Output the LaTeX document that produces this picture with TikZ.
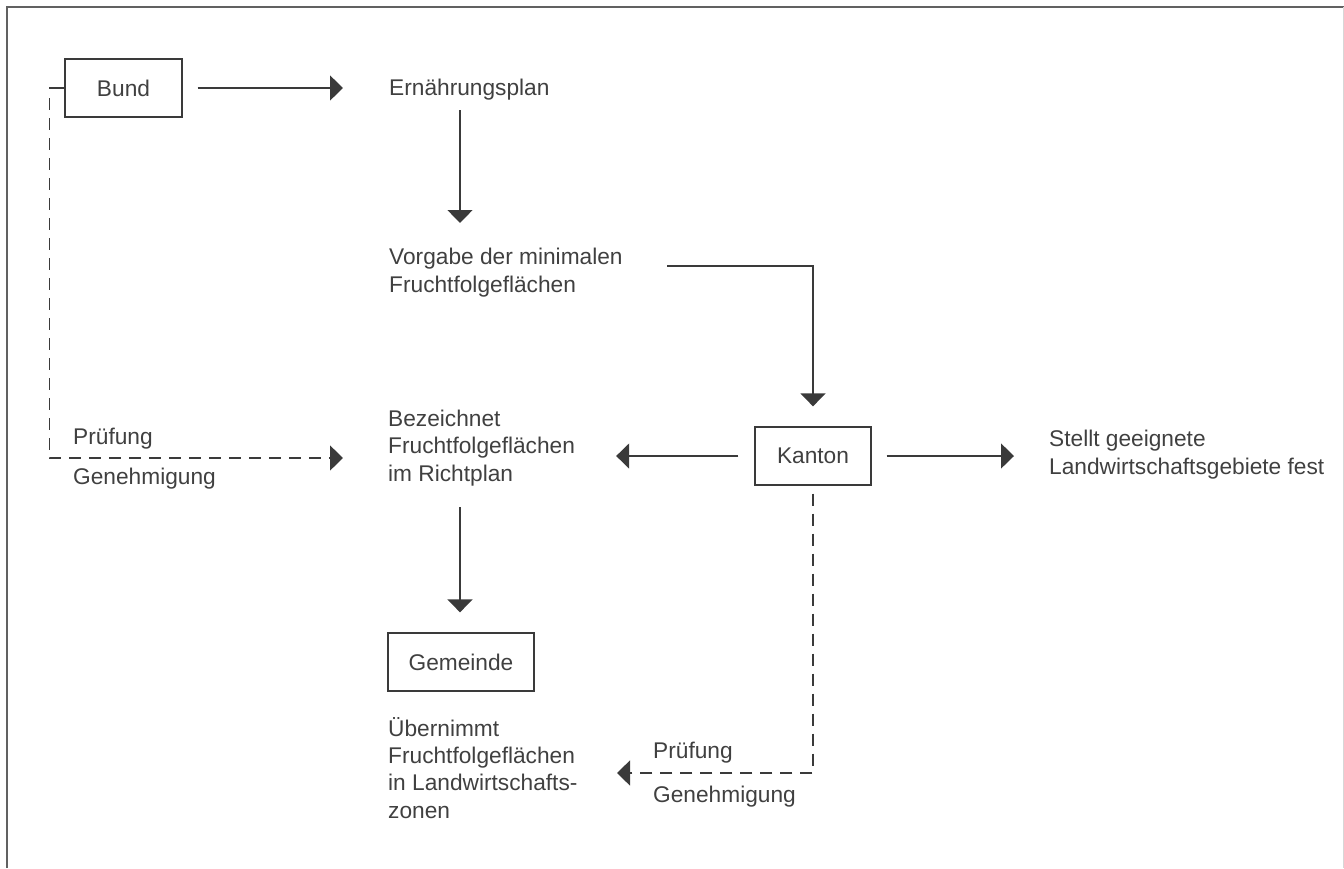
\documentclass[tikz,border=0pt]{standalone}
\usepackage{fontspec}
\setmainfont{Liberation Sans}
\usetikzlibrary{arrows.meta,calc}
\definecolor{ink}{HTML}{3A3A3A}
\definecolor{txt}{HTML}{404040}
\begin{document}
\begin{tikzpicture}[x=1pt,y=-1pt,
  every node/.style={inner sep=0pt, text=txt, font=\fontsize{22.7}{27.3}\selectfont},
  box/.style={draw=ink, line width=1.3pt, minimum height=58pt},
  lbl/.style={anchor=base west, align=left},
  conn/.style={draw=ink, line width=1.4pt},
  arr/.style={conn, -{Triangle[length=13pt,width=25pt]}},
  dsh/.style={dash pattern=on 12pt off 8pt}
]
\useasboundingbox (0,0) rectangle (1344,868);
% frame
\draw[ink!80, line width=1.5pt] (7,868) -- (7,7) -- (1344,7);
\draw[ink!20, line width=1pt] (1343,7) -- (1343,868);

% boxes
\node[box, minimum width=117pt] (bund) at (123.5,88) {Bund};
\node[box, minimum width=116pt] (kanton) at (813,456) {Kanton};
\node[box, minimum width=146pt] (gem) at (461,662) {Gemeinde};

% texts (base = baseline of the last line)
\node[lbl] (ern) at (389,95) {Ernährungsplan};
\node[lbl] (vorg) at (389,292) {Vorgabe der minimalen\\Fruchtfolgeflächen};
\node[lbl] (bez) at (388,481) {Bezeichnet\\Fruchtfolgeflächen\\im Richtplan};
\node[lbl] (stellt) at (1049,474) {Stellt geeignete\\Landwirtschaftsgebiete fest};
\node[lbl] (ueber) at (388,818) {Übernimmt\\Fruchtfolgeflächen\\in Landwirtschafts-\\zonen};
\node[lbl] (pr1) at (73,444) {Prüfung};
\node[lbl] (ge1) at (73,484) {Genehmigung};
\node[lbl] (pr2) at (653,758) {Prüfung};
\node[lbl] (ge2) at (653,802) {Genehmigung};

% connectors
\draw[arr, shorten <=15pt, shorten >=46pt] (bund.east) -- (bund.east -| ern.west);
\draw[arr] ($(ern.base west)+(71,15)$) -- ($(vorg.base west)+(71,-69)$);
\draw[arr] ($(vorg.base west)+(278,-26)$) -| ($(kanton.north)+(0,-20)$);
\draw[arr, shorten <=16pt, shorten >=41pt] (kanton.west) -- (kanton.west -| bez.east);
\draw[arr, shorten <=15pt, shorten >=35pt] (kanton.east) -- (kanton.east -| stellt.west);
\draw[arr] ($(bez.base west)+(72,26)$) -- ($(gem.north)+(-1,-20)$);

% dashed review paths
\draw[conn] (bund.west) -- ++(-15,0) coordinate (bt);
\draw[arr, dsh] ($(bt)+(0,10)$) |- ($(bez.base west)+(-45,-23)$);
\draw[arr, dsh] ($(kanton.south)+(0,8)$) |- ($(ueber.base west)+(229,-45)$);
\end{tikzpicture}
\end{document}
